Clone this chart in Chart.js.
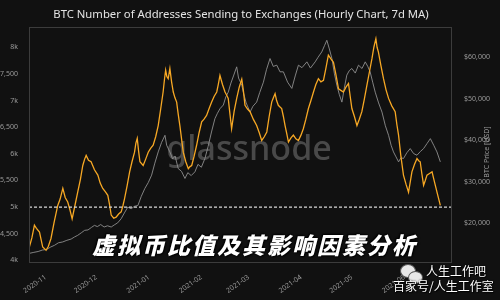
<!DOCTYPE html>
<html>
<head>
<meta charset="utf-8">
<script src="https://cdn.jsdelivr.net/npm/chart.js@4.4.1/dist/chart.umd.min.js"></script>
<style>
  html, body { margin: 0; padding: 0; background: #111111; }
  #wrap { position: relative; width: 500px; height: 300px; overflow: hidden; }
  #c { position: absolute; left: 0; top: 0; }
  .banner {
    position: absolute; left: 92px; top: 227px; width: 340px;
    font-family: "Noto Sans CJK SC", sans-serif; font-weight: 900; font-size: 23px;
    letter-spacing: 2px; color: #ffffff; white-space: nowrap; font-style: italic;
    text-shadow: 0 0 2px #000, 1px 1px 2px #000, -1px -1px 2px #000;
  }
  .wm1, .wm2 {
    position: absolute; font-family: "Noto Sans CJK SC", sans-serif; color: #ffffff;
    white-space: nowrap; text-shadow: 0 0 2px #000, 1px 1px 1px #000;
  }
  .wm1 { left: 426px; top: 262px; font-size: 12px; }
  .wm2 { left: 393px; top: 277px; font-size: 12px; }
  .bubble { position: absolute; border-radius: 50%; background: #e8e8e8; border: 1px solid #555; }
</style>
</head>
<body>
<div id="wrap">
  <canvas id="c" width="500" height="300"></canvas>
  <div class="banner">虚拟币比值及其影响因素分析</div>
  <div class="bubble" style="left:400px;top:264px;width:14px;height:12px;"></div>
  <div class="bubble" style="left:408px;top:271px;width:13px;height:11px;"></div>
  <div class="wm1">人生工作吧</div>
  <div class="wm2">百家号/人生工作室</div>
</div>
<script>
// ─── DATA ───
// days counted from 2020-11-01
const monthDays   = [0, 30, 61, 92, 120, 151, 181, 212];
const monthLabels = ['2020-11', '2020-12', '2021-01', '2021-02', '2021-03', '2021-04', '2021-05', '2021-06'];

const leftTicks  = [4000, 4500, 5000, 5500, 6000, 6500, 7000, 7500, 8000];
const leftLabels = ['4k', '4,500', '5k', '5,500', '6k', '6,500', '7k', '7,500', '8k'];
const rightTicks  = [20000, 30000, 40000, 50000, 60000];
const rightLabels = ['$20,000', '$30,000', '$40,000', '$50,000', '$60,000'];

const refLevel = 5000; // dashed line

// addresses sending to exchanges (7d MA)
const addrDays = [
  -9.7, -8.2, -6.7, -5.5, -3.7, -1.8, 0.2, 1.5, 3.1, 5.0, 7.1, 8.5, 10.1, 11.5, 13.0, 14.3, 15.6, 17.2, 18.9, 20.5,
  21.9, 23.0, 23.9, 25.3, 26.8, 28.8, 30.8, 32.2, 33.7, 35.2, 36.7, 37.7, 38.7, 40.2, 41.6, 43.1, 44.6, 45.6, 46.6, 48.1,
  49.6, 51.0, 52.5, 53.3, 54.1, 54.9, 55.7, 57.6, 59.1, 60.6, 62.0, 63.5, 65.0, 66.5, 68.0, 69.4, 70.2, 70.9, 71.6, 72.4,
  73.4, 74.4, 75.4, 76.4, 77.4, 78.3, 79.3, 80.3, 81.3, 82.8, 84.3, 85.3, 86.3, 87.7, 89.2, 90.7, 92.2, 93.6, 95.1, 96.6,
  98.1, 99.6, 101.1, 102.0, 103.0, 104.5, 106.0, 107.0, 107.9, 108.9, 109.9, 111.4, 112.9, 114.4, 115.9, 116.8, 117.8, 119.3, 120.8, 122.7,
  124.7, 126.2, 127.7, 129.2, 130.7, 132.1, 133.6, 134.6, 135.6, 136.5, 137.5, 138.5, 139.5, 140.5, 141.5, 142.5, 143.5, 145.0, 146.4, 147.9,
  149.4, 150.9, 152.3, 153.8, 155.3, 156.8, 158.3, 159.7, 161.2, 162.7, 164.2, 165.6, 167.1, 168.6, 170.1, 171.6, 173.1, 174.5, 176.0, 177.5,
  179.0, 180.0, 181.0, 182.5, 184.0, 185.4, 186.9, 188.4, 189.9, 191.4, 192.9, 194.0, 195.2, 195.9, 196.7, 198.2, 199.7, 201.2, 202.7, 204.6,
  206.6, 207.6, 208.6, 210.0, 211.5, 213.0, 214.5, 215.5, 216.5, 218.0, 219.5, 220.5, 221.4, 222.4, 223.4, 224.4, 225.4, 226.9, 228.4, 229.4,
  230.3, 231.8, 233.3
];
const addrValues = [
  4250, 4420, 4660, 4600, 4530, 4250, 4190, 4260, 4410, 4720, 5030, 5150, 5350, 5180, 5095, 4950, 4780, 5020, 5280, 5520,
  5780, 5900, 5970, 5880, 5850, 5700, 5600, 5450, 5350, 5290, 5220, 5050, 4850, 4790, 4810, 4870, 4910, 5020, 5160, 5400,
  5660, 5850, 6030, 6200, 6290, 6050, 5850, 5780, 5900, 6030, 6100, 6160, 6320, 6530, 6850, 7160, 7400, 7570, 7450, 7410,
  7600, 7350, 7160, 7050, 6970, 6750, 6530, 6280, 6030, 5850, 5720, 5760, 5780, 5950, 6160, 6400, 6600, 6650, 6720, 6850,
  6970, 7080, 7160, 7300, 7470, 7300, 7160, 7100, 7040, 6750, 6470, 6800, 7040, 7250, 7400, 7200, 6910, 6840, 6790, 6650,
  6530, 6400, 6250, 6320, 6410, 6700, 6970, 7050, 7130, 7000, 6910, 6880, 6850, 6700, 6530, 6380, 6220, 6300, 6350, 6280,
  6250, 6350, 6470, 6650, 6850, 7000, 7160, 7300, 7410, 7350, 7380, 7600, 7850, 7780, 7720, 7480, 7220, 7190, 7160, 7250,
  7320, 7080, 6850, 6700, 6530, 6650, 6790, 7030, 7290, 7540, 7790, 8000, 8160, 8000, 7910, 7650, 7410, 7200, 7040, 6900,
  6790, 6550, 6350, 5950, 5600, 5430, 5280, 5470, 5660, 5800, 5910, 5870, 5850, 5620, 5410, 5500, 5600, 5630, 5660, 5530,
  5410, 5220, 5030
];

// BTC price (USD)
const priceDays = [
  -9.5, -7.0, -4.5, -2.0, 0.5, 3.0, 5.2, 7.5, 10.0, 12.5, 15.0, 17.0, 18.9, 21.0, 23.0, 25.0, 27.0, 28.8, 30.5, 32.5,
  34.5, 36.5, 38.7, 40.5, 42.5, 44.6, 46.5, 48.5, 50.5, 52.5, 54.5, 56.5, 58.6, 60.6, 62.6, 64.5, 66.5, 68.5, 70.5, 71.5,
  73.4, 75.0, 76.5, 78.3, 80.3, 82.3, 84.0, 86.0, 88.2, 90.0, 92.0, 94.1, 96.0, 98.0, 100.0, 101.5, 103.0, 105.0, 106.5, 107.9,
  109.5, 111.0, 112.9, 114.0, 115.9, 116.8, 118.5, 120.8, 122.5, 124.7, 126.5, 128.7, 130.5, 132.6, 134.5, 136.6, 138.5, 140.5, 143.0, 145.5,
  147.5, 149.4, 151.5, 154.4, 156.5, 159.3, 161.0, 163.2, 164.8, 166.2, 167.7, 169.2, 170.7, 172.1, 173.6, 175.1, 176.5, 178.0, 179.5, 181.0,
  183.0, 184.9, 187.0, 188.9, 190.4, 191.8, 193.3, 194.8, 196.8, 198.8, 200.8, 202.7, 204.2, 205.6, 207.1, 208.6, 210.0, 211.5, 213.5, 215.5,
  217.5, 219.5, 221.5, 223.4, 225.4, 227.4, 229.4, 231.3, 233.3
];
const priceValues = [
  12770, 13000, 13200, 13550, 13700, 14300, 14700, 15300, 15500, 15900, 16200, 16700, 17100, 17700, 18300, 18400, 19000, 19500, 19200, 19700,
  19100, 19400, 19100, 19600, 20100, 21100, 22500, 23900, 23500, 24100, 24300, 26500, 28400, 29800, 31600, 34500, 37200, 39500, 41200, 38800,
  37200, 35500, 36200, 33200, 32500, 30800, 32200, 31500, 32400, 34200, 33500, 35600, 38500, 42000, 45200, 46500, 47600, 48500, 50500, 51600,
  53800, 55500, 57700, 55000, 53300, 51600, 49000, 46800, 48200, 49200, 51500, 54000, 57000, 59700, 57800, 58100, 56500, 56500, 54000, 52500,
  55500, 58100, 57500, 58900, 57400, 58900, 60000, 61300, 62800, 64100, 62000, 59700, 56000, 53300, 51000, 49200, 52500, 55700, 56800, 57300,
  56200, 58100, 57300, 58900, 57800, 56500, 54000, 51600, 49000, 46800, 43500, 41200, 38800, 37200, 36000, 34800, 35800, 35600, 37000, 38000,
  36800, 36400, 37300, 38000, 39200, 40400, 38800, 37200, 34800
];

// ─── CHART ───
const textColor = '#9a9a9a';
const tickFont  = { family: 'Noto Sans', size: 7 };
const chartTitle = 'BTC Number of Addresses Sending to Exchanges (Hourly Chart, 7d MA)';

const toPoints = (xs, ys) => xs.map((x, i) => ({ x, y: ys[i] }));

// title, plot frame, dashed 5k line, right axis title and glassnode watermark
const decorPlugin = {
  id: 'decor',
  beforeDatasetsDraw(chart) {
    const { ctx } = chart;
    ctx.save();
    ctx.font = '500 34px "Noto Sans"';
    ctx.fillStyle = 'rgba(120,120,120,0.55)';
    ctx.textAlign = 'center';
    ctx.textBaseline = 'middle';
    ctx.fillText('glassnode', 249, 150);
    ctx.restore();
  },
  afterDatasetsDraw(chart) {
    const { ctx, chartArea: a, scales } = chart;
    const y = scales.y.getPixelForValue(refLevel);
    ctx.save();
    ctx.strokeStyle = '#d8d8d8';
    ctx.lineWidth = 1.2;
    ctx.setLineDash([3, 2]);
    ctx.beginPath();
    ctx.moveTo(a.left, y);
    ctx.lineTo(a.right, y);
    ctx.stroke();
    ctx.setLineDash([]);
    ctx.strokeStyle = '#3c3c3c';
    ctx.lineWidth = 1;
    ctx.strokeRect(a.left + 0.5, a.top + 0.5, a.right - a.left - 1, a.bottom - a.top - 1);

    // title
    ctx.fillStyle = '#e4e4e4';
    ctx.font = '11.3px "Noto Sans"';
    ctx.textAlign = 'center';
    ctx.textBaseline = 'middle';
    ctx.fillText(chartTitle, 241, 15);

    // right axis title, reading upward
    ctx.translate(487, (a.top + a.bottom) / 2 + 7);
    ctx.rotate(-Math.PI / 2);
    ctx.fillStyle = textColor;
    ctx.font = '7px "Noto Sans"';
    ctx.fillText('BTC Price [USD]', 0, 0);
    ctx.restore();
  }
};

new Chart(document.getElementById('c'), {
  type: 'line',
  data: {
    datasets: [
      {
        label: 'Addresses',
        data: toPoints(addrDays, addrValues),
        yAxisID: 'y',
        borderColor: '#f7a824',
        borderWidth: 1.3,
        pointRadius: 0,
        tension: 0,
        order: 1
      },
      {
        label: 'Price',
        data: toPoints(priceDays, priceValues),
        yAxisID: 'y1',
        borderColor: '#8e8e8e',
        borderWidth: 0.9,
        pointRadius: 0,
        tension: 0,
        order: 2
      }
    ]
  },
  options: {
    responsive: false,
    animation: false,
    layout: { padding: { left: 0, right: 0, top: 27, bottom: 0 } },
    plugins: {
      legend: { display: false },
      tooltip: { enabled: false },
      title: { display: false }
    },
    scales: {
      x: {
        type: 'linear',
        min: -9.9,
        max: 240.2,
        grid: { display: false },
        border: { display: false },
        afterBuildTicks: s => { s.ticks = monthDays.map(v => ({ value: v })); },
        afterFit: s => { s.height = 37; },
        ticks: {
          color: textColor,
          font: tickFont,
          minRotation: 35,
          maxRotation: 35,
          padding: 2,
          callback: v => monthLabels[monthDays.indexOf(v)] ?? ''
        }
      },
      y: {
        position: 'left',
        min: 3950,
        max: 8380,
        grid: { display: false },
        border: { display: false },
        afterBuildTicks: s => { s.ticks = leftTicks.map(v => ({ value: v })); },
        afterFit: s => { s.width = 29; },
        ticks: {
          color: textColor,
          font: tickFont,
          padding: 3,
          callback: v => leftLabels[leftTicks.indexOf(v)] ?? ''
        }
      },
      y1: {
        position: 'right',
        min: 10430,
        max: 67300,
        grid: { display: false },
        border: { display: false },
        afterBuildTicks: s => { s.ticks = rightTicks.map(v => ({ value: v })); },
        afterFit: s => { s.width = 48; },
        ticks: {
          color: textColor,
          font: tickFont,
          padding: 4,
          callback: v => rightLabels[rightTicks.indexOf(v)] ?? ''
        }
      }
    }
  },
  plugins: [decorPlugin]
});
</script>
</body>
</html>
